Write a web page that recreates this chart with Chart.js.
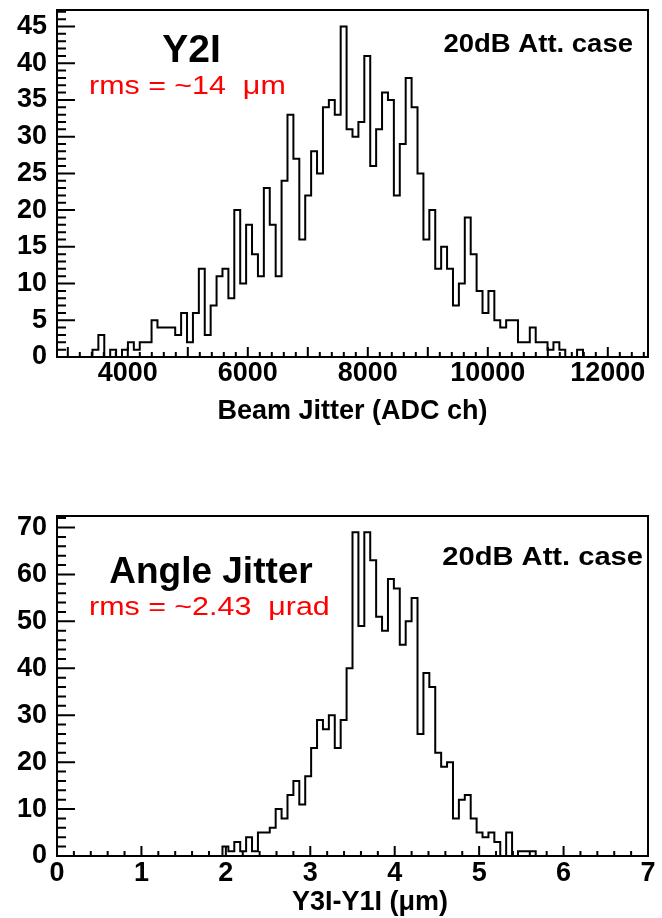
<!DOCTYPE html>
<html>
<head>
<meta charset="utf-8">
<script src="https://cdn.jsdelivr.net/npm/chart.js@4.4.1/dist/chart.umd.min.js"></script>
<style>
  html, body { margin: 0; padding: 0; background: #fff; }
  #wrap { position: relative; width: 662px; height: 918px; overflow: hidden; background: #fff; }
  canvas { position: absolute; left: 0; }
  #c1 { top: 0; }
  #c2 { top: 460px; }
</style>
</head>
<body>
<div id="wrap">
  <canvas id="c1" width="662" height="460"></canvas>
  <canvas id="c2" width="662" height="458"></canvas>
</div>
<script>
// ---------------- DATA ----------------
// Top histogram: Beam Jitter (ADC ch), 100 bins over [topRangeMin, topRangeMax]
const topRangeMin = 2820;
const topRangeMax = 12670;
const topNBins = 100;
const topFirstBin = 6;           // index of first listed bin
const topCounts = [
  1, 3, 0, 1, 0, 1, 2, 1, 2, 2,
  5, 4, 4, 4, 3, 6, 2, 6, 12, 3,
  7, 11, 12, 8, 20, 10, 18, 14, 11, 23,
  18, 11, 24, 33, 27, 16, 22, 28, 25, 34,
  35, 33, 45, 31, 30, 32, 41, 26, 31, 36,
  35, 22, 29, 38, 34, 25, 16, 20, 12, 15,
  12, 7, 10, 19, 14, 9, 6, 9, 5, 4,
  5, 5, 2, 2, 4, 2, 2, 1, 2, 1,
  0, 0, 1
];
const topYMax = 47.25;
const topXTickLabels = [4000, 6000, 8000, 10000, 12000];
const topYTickLabels = [0, 5, 10, 15, 20, 25, 30, 35, 40, 45];

// Bottom histogram: Angle Jitter, Y3I-Y1I (um), 100 bins over [0, 7]
const botRangeMin = 0;
const botRangeMax = 7;
const botNBins = 100;
const botFirstBin = 28;
const botCounts = [
  2, 1, 3, 1, 4, 1, 5, 5, 6, 10,
  8, 13, 16, 11, 17, 23, 29, 27, 30, 23,
  29, 40, 69, 49, 69, 63, 51, 48, 59, 57,
  45, 50, 55, 26, 39, 36, 22, 19, 20, 8,
  12, 13, 8, 5, 4, 5, 3, 0, 5, 0,
  1, 1, 1
];
const botYMax = 72.45;
const botXTickLabels = [0, 1, 2, 3, 4, 5, 6, 7];
const botYTickLabels = [0, 10, 20, 30, 40, 50, 60, 70];

// ---------------- HELPERS ----------------
const FONT = '"Liberation Sans", Arial, Helvetica, sans-serif';

function histPoints(rMin, rMax, nBins, firstBin, counts) {
  const w = (rMax - rMin) / nBins;
  const pts = [{ x: rMin + firstBin * w, y: 0 }];
  counts.forEach((c, i) => pts.push({ x: rMin + (firstBin + i) * w, y: c }));
  pts.push({ x: rMin + (firstBin + counts.length) * w, y: 0 });
  return pts;
}

function rootFramePlugin(cfg) {
  return {
    id: 'rootFrame',
    afterDatasetsDraw(chart) {
      const { ctx, chartArea: a, scales: { x, y } } = chart;
      ctx.save();
      ctx.strokeStyle = '#000';
      ctx.lineWidth = 2;
      ctx.beginPath();
      // x ticks (inside, from bottom edge)
      const i0 = Math.ceil(x.min / cfg.xMinor - 1e-9), i1 = Math.floor(x.max / cfg.xMinor + 1e-9);
      for (let i = i0; i <= i1; i++) {
        const v = i * cfg.xMinor;
        const px = x.getPixelForValue(v);
        if (px < a.left + 1.5 || px > a.right - 1.5) continue;
        const r = v / cfg.xMajor;
        const major = Math.abs(r - Math.round(r)) < 1e-6;
        ctx.moveTo(px, a.bottom);
        ctx.lineTo(px, a.bottom - (major ? cfg.xMajorLen : cfg.xMinorLen));
      }
      // y ticks (inside, from left edge)
      const j0 = Math.ceil(y.min / cfg.yMinor - 1e-9), j1 = Math.floor(y.max / cfg.yMinor + 1e-9);
      for (let j = j0; j <= j1; j++) {
        const v = j * cfg.yMinor;
        const py = y.getPixelForValue(v);
        if (py > a.bottom - 1.5 || py < a.top + 1.5) continue;
        const r = v / cfg.yMajor;
        const major = Math.abs(r - Math.round(r)) < 1e-6;
        ctx.moveTo(a.left, py);
        ctx.lineTo(a.left + (major ? cfg.yMajorLen : cfg.yMinorLen), py);
      }
      ctx.stroke();
      ctx.strokeRect(a.left, a.top, a.right - a.left, a.bottom - a.top);
      // annotation texts
      cfg.texts.forEach(t => {
        ctx.save();
        ctx.translate(t.x, t.y);
        ctx.scale(t.sx || 1, 1);
        ctx.font = t.font;
        ctx.fillStyle = t.color || '#000';
        ctx.textAlign = t.align || 'left';
        ctx.textBaseline = 'alphabetic';
        ctx.fillText(t.text, 0, 0);
        ctx.restore();
      });
      ctx.restore();
    }
  };
}

function makeChart(canvasId, o) {
  const tickFont = { family: FONT, size: 27, weight: 'bold' };
  return new Chart(document.getElementById(canvasId), {
    type: 'line',
    data: {
      datasets: [{
        data: o.points,
        stepped: true,
        borderColor: '#000',
        borderWidth: 2,
        pointRadius: 0,
        fill: false,
        tension: 0
      }]
    },
    options: {
      responsive: false,
      animation: false,
      events: [],
      layout: { padding: { left: 0, right: 14, top: o.padTop, bottom: 0 } },
      plugins: { legend: { display: false }, tooltip: { enabled: false }, title: { display: false } },
      scales: {
        x: {
          type: 'linear',
          min: o.xMin, max: o.xMax,
          afterBuildTicks: s => { s.ticks = o.xTicks.map(v => ({ value: v })); },
          afterFit: s => { s.height = o.xHeight; s.paddingLeft = 0; s.paddingRight = 0; },
          grid: { display: false, drawTicks: false },
          border: { display: false },
          ticks: {
            font: tickFont, color: '#000', padding: o.xPad,
            maxRotation: 0, minRotation: 0, autoSkip: false,
            callback: v => String(v)
          },
          title: {
            display: !!o.xTitle, text: o.xTitle || '', color: '#000',
            font: { family: FONT, size: 27, weight: 'bold' },
            padding: { top: 0, bottom: o.xTitlePad }
          }
        },
        y: {
          min: 0, max: o.yMax,
          afterBuildTicks: s => { s.ticks = o.yTicks.map(v => ({ value: v })); },
          afterFit: s => { s.width = 57; s.paddingTop = 0; s.paddingBottom = 0; },
          grid: { display: false, drawTicks: false },
          border: { display: false },
          ticks: { font: tickFont, color: '#000', padding: 10, callback: v => String(v) }
        }
      }
    },
    plugins: [rootFramePlugin(o.frame)]
  });
}

// ---------------- CHARTS ----------------
makeChart('c1', {
  points: histPoints(topRangeMin, topRangeMax, topNBins, topFirstBin, topCounts),
  xMin: topRangeMin, xMax: topRangeMax, yMax: topYMax,
  xTicks: topXTickLabels, yTicks: topYTickLabels,
  padTop: 10, xHeight: 103, xPad: 0, xTitlePad: 32,
  xTitle: 'Beam Jitter (ADC ch)',
  frame: {
    xMinor: 200, xMajor: 1000, xMinorLen: 5, xMajorLen: 10,
    yMinor: 1, yMajor: 5, yMinorLen: 9, yMajorLen: 18,
    texts: [
      { text: 'Y2I', x: 191.5, y: 62, font: 'bold 39px ' + FONT, align: 'center' },
      { text: 'rms = ~14  \u03BCm', x: 89, y: 94, font: '26px ' + FONT, color: '#ff0000', sx: 1.17 },
      { text: '20dB Att. case', x: 633, y: 52, font: 'bold 25px ' + FONT, align: 'right', sx: 1.1 }
    ]
  }
});

makeChart('c2', {
  points: histPoints(botRangeMin, botRangeMax, botNBins, botFirstBin, botCounts),
  xMin: botRangeMin, xMax: botRangeMax, yMax: botYMax,
  xTicks: botXTickLabels, yTicks: botYTickLabels,
  padTop: 56, xHeight: 62, xPad: 1, xTitlePad: 2,
  xTitle: null,
  frame: {
    xMinor: 0.2, xMajor: 1, xMinorLen: 5, xMajorLen: 10,
    yMinor: 2, yMajor: 10, yMinorLen: 9, yMajorLen: 18,
    texts: [
      { text: 'Angle Jitter', x: 211, y: 123, font: 'bold 37px ' + FONT, align: 'center' },
      { text: 'rms = ~2.43  \u03BCrad', x: 89, y: 155, font: '26px ' + FONT, color: '#ff0000', sx: 1.17 },
      { text: '20dB Att. case', x: 643, y: 105, font: 'bold 26px ' + FONT, align: 'right', sx: 1.12 },
      { text: 'Y3I-Y1I (\u03BCm)', x: 370, y: 450, font: 'bold 27px ' + FONT, align: 'center' }
    ]
  }
});
</script>
</body>
</html>
